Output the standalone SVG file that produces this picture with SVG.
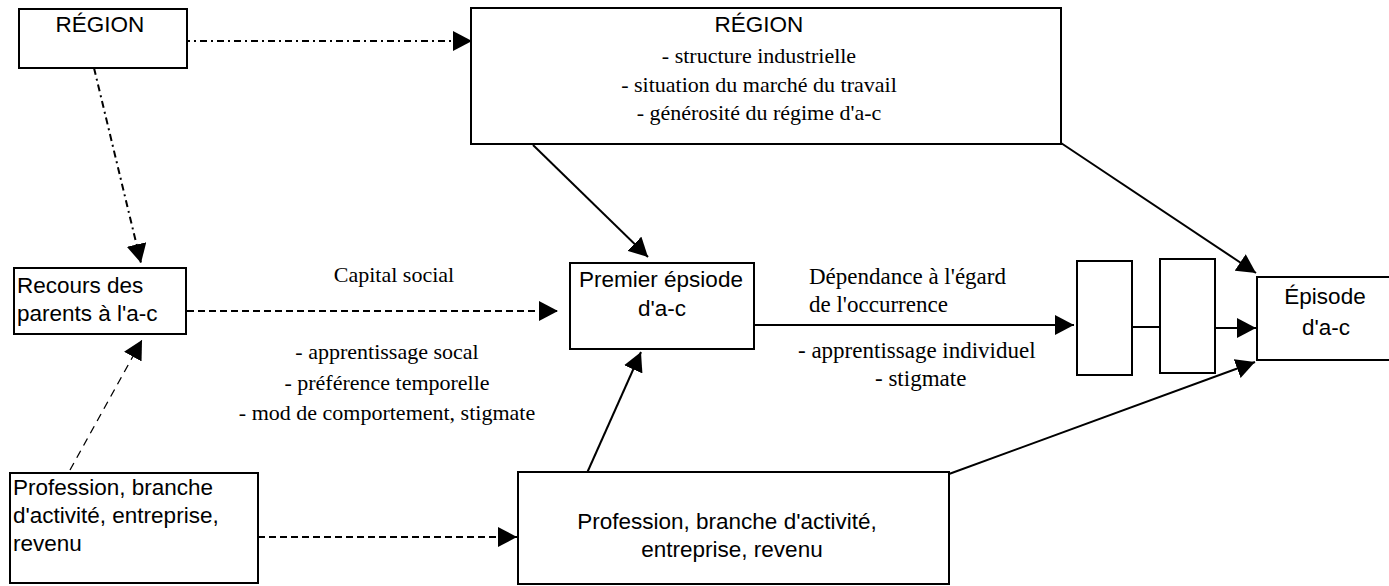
<svg xmlns="http://www.w3.org/2000/svg" width="1389" height="586" viewBox="0 0 1389 586">
<style>
.box{fill:#fff;stroke:#000;stroke-width:2}
.a{font-family:"Liberation Sans",Arial,sans-serif;font-size:22.5px;fill:#000}
.t{font-family:"Liberation Serif","Times New Roman",serif;font-size:22px;fill:#000}
.tc{font-family:"Liberation Serif","Times New Roman",serif;font-size:23px;fill:#000}
.ln{fill:none;stroke:#000;stroke-width:2}
.dd{stroke-dasharray:7 4 2 4}
.ds{stroke-dasharray:7 4}
.thin{stroke-width:1.3;stroke-dasharray:8 6}
</style>
<defs>
<marker id="ah" viewBox="0 0 19 20" refX="19" refY="10" markerWidth="19" markerHeight="20" markerUnits="userSpaceOnUse" orient="auto">
<path d="M0,0 L19,10 L0,20 Z" fill="#000"/>
</marker>
</defs>
<g id="connectors">
<line class="ln dd" x1="183" y1="41" x2="472" y2="41" marker-end="url(#ah)"/>
<line class="ln dd" x1="94" y1="68" x2="141" y2="263" marker-end="url(#ah)"/>
<line class="ln ds" x1="187" y1="311" x2="558" y2="311" marker-end="url(#ah)"/>
<line class="ln thin" x1="70" y1="470" x2="142" y2="340" marker-end="url(#ah)"/>
<line class="ln ds" x1="258" y1="537" x2="517" y2="537" marker-end="url(#ah)"/>
<line class="ln" x1="533" y1="145" x2="648" y2="257" marker-end="url(#ah)"/>
<line class="ln" x1="587" y1="473" x2="641" y2="352" marker-end="url(#ah)"/>
<line class="ln" x1="1061" y1="143" x2="1256" y2="273" marker-end="url(#ah)"/>
<line class="ln" x1="949" y1="474" x2="1255" y2="362" marker-end="url(#ah)"/>
<line class="ln" x1="754" y1="325" x2="1074" y2="325" marker-end="url(#ah)"/>
<line class="ln" x1="1132" y1="327" x2="1160" y2="327"/>
<line class="ln" x1="1215" y1="328" x2="1256" y2="328" marker-end="url(#ah)"/>
</g>
<g id="region-small">
<rect class="box" x="19" y="9" width="168" height="59"/>
<text class="a" x="100" y="32" text-anchor="middle">RÉGION</text>
</g>
<g id="region-big">
<rect class="box" x="471" y="8" width="590" height="136"/>
<text class="a" x="759" y="32" text-anchor="middle">RÉGION</text>
<text class="t" x="759" y="63" text-anchor="middle">- structure industrielle</text>
<text class="t" x="759" y="92" text-anchor="middle">- situation du marché du travail</text>
<text class="t" x="759" y="120" text-anchor="middle">- générosité du régime d'a-c</text>
</g>
<g id="recours">
<rect class="box" x="14" y="268" width="172" height="66"/>
<text class="a" x="17" y="293">Recours des</text>
<text class="a" x="17" y="321">parents à l'a-c</text>
</g>
<g id="labels-left">
<text class="t" x="394" y="282" text-anchor="middle">Capital social</text>
<text class="t" x="387" y="359" text-anchor="middle">- apprentissage socal</text>
<text class="t" x="387" y="390" text-anchor="middle">- préférence temporelle</text>
<text class="t" x="387" y="420" text-anchor="middle">- mod de comportement, stigmate</text>
</g>
<g id="premier">
<rect class="box" x="570" y="263" width="184" height="86"/>
<text class="a" x="661" y="287" text-anchor="middle">Premier épsiode</text>
<text class="a" x="662" y="316" text-anchor="middle">d'a-c</text>
</g>
<g id="labels-right">
<text class="tc" x="809" y="284">Dépendance à l'égard</text>
<text class="tc" x="809" y="312">de l'occurrence</text>
<text class="tc" x="798" y="358">- apprentissage individuel</text>
<text class="tc" x="875" y="386">- stigmate</text>
</g>
<g id="small-box-1">
<rect class="box" x="1077" y="261" width="55" height="114"/>
</g>
<g id="small-box-2">
<rect class="box" x="1160" y="259" width="55" height="114"/>
</g>
<g id="episode">
<rect class="box" x="1257" y="277" width="135" height="83"/>
<text class="a" x="1325" y="304" text-anchor="middle">Épisode</text>
<text class="a" x="1326" y="335" text-anchor="middle">d'a-c</text>
</g>
<g id="profession-left">
<rect class="box" x="10" y="473" width="248" height="110"/>
<text class="a" x="13" y="495">Profession, branche</text>
<text class="a" x="13" y="523">d'activité, entreprise,</text>
<text class="a" x="13" y="551">revenu</text>
</g>
<g id="profession-bottom">
<rect class="box" x="518" y="472" width="431" height="112"/>
<text class="a" x="727" y="529" text-anchor="middle">Profession, branche d'activité,</text>
<text class="a" x="732" y="557" text-anchor="middle">entreprise, revenu</text>
</g>
</svg>
